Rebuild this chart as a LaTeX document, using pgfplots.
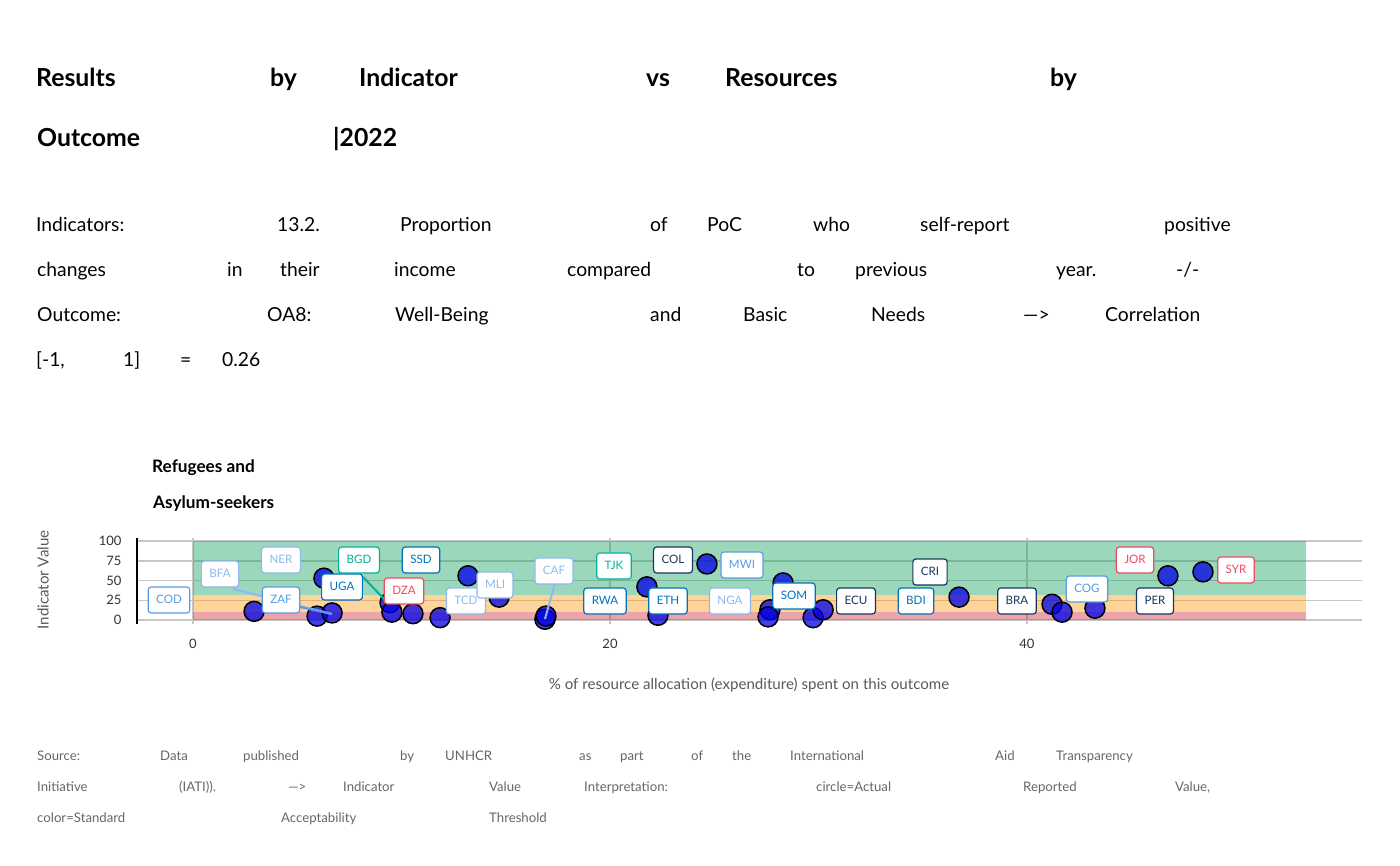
\documentclass[border=0pt]{standalone}
\usepackage{fontspec}
\setmainfont{Lato}
\usepackage{pgfplots}
\pgfplotsset{compat=1.18}
\definecolor{pale}{HTML}{8EB8F0}
\definecolor{lblue}{HTML}{589BE5}
\definecolor{unblue}{HTML}{0072BC}
\definecolor{navy}{HTML}{18375F}
\definecolor{tealc}{HTML}{00B398}
\definecolor{redc}{HTML}{EF4A60}
\definecolor{bandgreen}{RGB}{5,155,85}
\definecolor{bandorange}{RGB}{250,150,5}
\definecolor{bandred}{RGB}{205,30,42}
\definecolor{ptblue}{RGB}{0,0,230}
\newcommand\titf{\fontsize{24.8}{28}\selectfont\bfseries}
\newcommand\subf{\fontsize{19.3}{22}\selectfont}
\newcommand\capf{\fontsize{13.2}{15}\selectfont\color{black!60}}
\newcommand\w[3]{\node[anchor=base west,inner sep=0pt] at (#1,#2) {#3};}
\tikzset{lbl/.style={fill=white, rounded corners=3pt, line width=1.2pt, font=\fontsize{11.6}{13}\selectfont, inner xsep=8pt, inner ysep=9pt, text height=8pt, text depth=0pt}}
\newcommand\lab[4]{\node[lbl, draw=#1, text=#1] at (#2,#3) {#4};}
\begin{document}
\begin{tikzpicture}
\begin{axis}[at={(137pt,242pt)}, anchor=south west, scale only axis,
  width=1225pt, height=86.1pt,
  xmin=-2.686, xmax=56.07, ymin=-5, ymax=104, clip=false,
  axis y line*=left, axis x line*=bottom,
  x axis line style={draw=none},
  y axis line style={line width=2.5pt, black, -},
  ytick={0,25,50,75,100}, xtick={0,20,40},
  major tick length=0pt,
  grid=major, major grid style={line width=1.5pt, black!22},
  ticklabel style={font=\fontsize{13}{15}\selectfont, text=black!80},
  /pgf/number format/assume math mode=true,
  yticklabel style={xshift=-12pt},
  xticklabel style={yshift=-12pt}]
\addplot[draw=none, fill=bandgreen, fill opacity=0.4] coordinates {(0,32) (0,100) (53.4,100) (53.4,32)} -- cycle;
\addplot[draw=none, fill=bandorange, fill opacity=0.4] coordinates {(0,10) (0,32) (53.4,32) (53.4,10)} -- cycle;
\addplot[draw=none, fill=bandred, fill opacity=0.4] coordinates {(0,0) (0,10) (53.4,10) (53.4,0)} -- cycle;
\addplot[only marks, mark=*, mark size=10pt, mark options={fill=ptblue, fill opacity=0.75, draw=black, line width=1.5pt}] coordinates {
(2.93,11) (6.28,53) (5.95,5) (6.67,9) (9.45,22) (9.54,10) (10.55,8) (11.85,3)
(13.19,56) (14.68,29) (16.88,1) (16.93,5) (21.77,42) (22.30,6) (24.65,71)
(28.30,47) (27.67,13) (27.58,4) (29.74,3) (30.22,13) (36.74,29) (41.20,20)
(41.68,10) (43.26,15) (46.76,56) (48.44,61)};
\end{axis}
\begin{scope}[x=1pt, y=-1pt, shift={(0pt,866pt)}]
\path (0,0) rectangle (1400,866);
% title
{\titf
\w{36}{86.5}{Results}\w{270}{86.5}{by}\w{359}{86.5}{Indicator}\w{646}{86.5}{vs}\w{725}{86.5}{Resources}\w{1050}{86.5}{by}
\w{37}{146.5}{Outcome}\w{333}{146.5}{|2022}}
% subtitle
{\subf
\w{36}{231.5}{Indicators:}\w{277}{231.5}{13.2.}\w{400}{231.5}{Proportion}\w{650}{231.5}{of}\w{707}{231.5}{PoC}\w{813}{231.5}{who}\w{920}{231.5}{self-report}\w{1164}{231.5}{positive}
\w{37}{276.5}{changes}\w{227}{276.5}{in}\w{280}{276.5}{their}\w{394}{276.5}{income}\w{567}{276.5}{compared}\w{797}{276.5}{to}\w{855}{276.5}{previous}\w{1056}{276.5}{year.}\w{1176}{276.5}{-/-}
\w{37}{321.5}{Outcome:}\w{267}{321.5}{OA8:}\w{395}{321.5}{Well-Being}\w{650}{321.5}{and}\w{743}{321.5}{Basic}\w{871}{321.5}{Needs}\w{1023}{321.5}{—>}\w{1105}{321.5}{Correlation}
\w{36}{366.5}{[-1,}\w{123}{366.5}{1]}\w{180}{366.5}{=}\w{222}{366.5}{0.26}}
% caption
{\capf
\w{37}{760.5}{Source:}\w{160}{760.5}{Data}\w{243}{760.5}{published}\w{400}{760.5}{by}\w{445}{760.5}{UNHCR}\w{579}{760.5}{as}\w{620}{760.5}{part}\w{691}{760.5}{of}\w{732}{760.5}{the}\w{790}{760.5}{International}\w{995}{760.5}{Aid}\w{1056}{760.5}{Transparency}
\w{37}{791.5}{Initiative}\w{179}{791.5}{(IATI)).}\w{288}{791.5}{—>}\w{343}{791.5}{Indicator}\w{489}{791.5}{Value}\w{584}{791.5}{Interpretation:}\w{816}{791.5}{circle=Actual}\w{1023}{791.5}{Reported}\w{1175}{791.5}{Value,}
\w{37}{822.5}{color=Standard}\w{281}{822.5}{Acceptability}\w{489}{822.5}{Threshold}}
% panel title
{\fontsize{17.2}{20}\selectfont\bfseries
\w{152}{473}{Refugees and}\w{153}{509}{Asylum-seekers}}
% axis labels
\node[font=\fontsize{15.1}{17}\selectfont, text=black!65] at (749,685) {\% of resource allocation (expenditure) spent on this outcome};
\node[font=\fontsize{15.1}{17}\selectfont, text=black!65, rotate=90] at (43,580) {Indicator Value};
% connectors
\draw[pale, line width=2pt] (233,589) -- (332,614);
\draw[lblue, line width=2pt] (300,607) -- (332,614);
\draw[tealc, line width=2pt] (363,577) -- (385,600);
\draw[pale, line width=2pt] (555,583) -- (545,619);
% labels
\lab{lblue}{169}{600}{COD}
\lab{pale}{220}{574}{BFA}
\lab{pale}{281}{560}{NER}
\lab{lblue}{281}{600}{ZAF}
\lab{unblue}{342}{587}{UGA}
\lab{tealc}{359}{560}{BGD}
\lab{unblue}{421}{560}{SSD}
\lab{redc}{404}{591}{DZA}
\lab{pale}{466}{601}{TCD}
\lab{pale}{495}{585}{MLI}
\lab{pale}{554}{571}{CAF}
\lab{tealc}{614}{566}{TJK}
\lab{unblue}{605}{601}{RWA}
\lab{navy}{673}{560}{COL}
\lab{unblue}{668}{601}{ETH}
\lab{lblue}{742}{565}{MWI}
\lab{pale}{730}{601}{NGA}
\lab{unblue}{794}{596}{SOM}
\lab{navy}{856}{601}{ECU}
\lab{unblue}{916}{601}{BDI}
\lab{navy}{930}{572}{CRI}
\lab{navy}{1017}{601}{BRA}
\lab{lblue}{1087}{589}{COG}
\lab{redc}{1135}{560}{JOR}
\lab{navy}{1155}{601}{PER}
\lab{redc}{1236}{570}{SYR}
\end{scope}
\end{tikzpicture}
\end{document}
